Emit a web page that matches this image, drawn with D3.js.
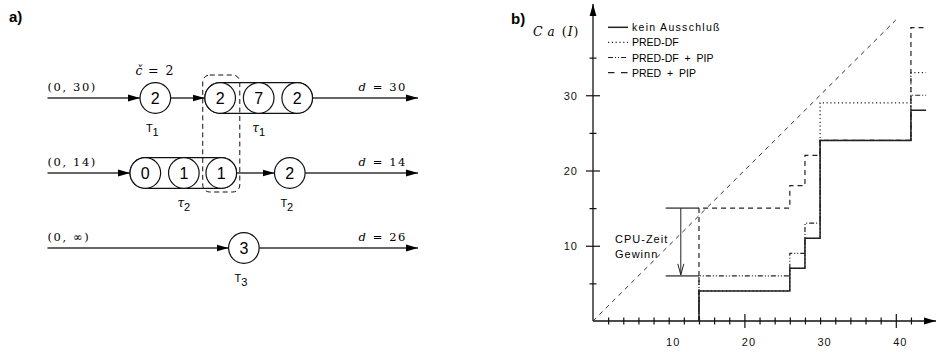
<!DOCTYPE html>
<html>
<head>
<meta charset="utf-8">
<script src="https://cdn.jsdelivr.net/npm/d3@7"></script>
<style>
body { margin: 0; background: #fff; }
svg { display: block; }
.sans { font-family: "Liberation Sans", Arial, sans-serif; }
.serif { font-family: "DejaVu Serif", "Liberation Serif", serif; }
</style>
</head>
<body>
<div id="chart"></div>
<script>
///////////////////////// Panel a data ////////////////////////////
var rowIds = ["T1", "T2", "T3"];
var rowRelease = ["(0, 30)", "(0, 14)", "(0, \u221e)"];
var rowDeadline = [30, 14, 26];
var taskCost = [2, 2, 3];            // single tasks T1, T2, T3
var taskSlot = [29.1, 65.4, 53.0];   // position along the row (0..100)
var tau1Cost = [2, 7, 2];
var tau1Slot = [46.6, 57.0, 67.4];
var tau2Cost = [0, 1, 1];
var tau2Slot = [26.4, 36.8, 46.9];
var cCheck = 2;

///////////////////////// Panel b data ////////////////////////////
var seriesNames = ["kein Ausschlu\u00df", "PRED-DF", "PRED-DF + PIP", "PRED + PIP"];
var stepX = [14, 26, 28, 30, 42, 44];
var keinAusschluss = [4, 7, 11, 24, 28];
var predDF = [4, 7, 11, 29, 33];
var predDFPip = [6, 9, 13, 24, 30];
var predPip = [15, 18, 22, 24, 39];
var xTicks = d3.range(2, 43, 2);
var xLabels = [10, 20, 30, 40];
var xMajor = [20, 40];
var yTicks = [5, 10, 15, 20, 25, 30, 35];
var yLabels = [10, 20, 30];
var gainTop = 15, gainBottom = 6, gainX = 11.6, gainX0 = 9.6;

var W = 936, H = 352;
var svg = d3.select("#chart").append("svg").attr("width", W).attr("height", H);

var ink = "#222";

// arrowhead markers
var defs = svg.append("defs");
defs.append("marker").attr("id", "tri")
    .attr("viewBox", "0 0 12 8").attr("refX", 12).attr("refY", 4)
    .attr("markerWidth", 12).attr("markerHeight", 8)
    .attr("markerUnits", "userSpaceOnUse").attr("orient", "auto")
  .append("path").attr("d", "M0,0.6 L12,4 L0,7.4 Z").attr("fill", "#000");
defs.append("marker").attr("id", "vee")
    .attr("viewBox", "0 0 8 12").attr("refX", 4).attr("refY", 12)
    .attr("markerWidth", 8).attr("markerHeight", 12)
    .attr("markerUnits", "userSpaceOnUse").attr("orient", 0)
  .append("path").attr("d", "M1,1 L4,12 L7,1").attr("fill", "none").attr("stroke", ink).attr("stroke-width", 1);

///////////////////////////////////////////////////////////////////
///////////////////////// Panel a /////////////////////////////////
///////////////////////////////////////////////////////////////////
var ga = svg.append("g");
var xa = d3.scaleLinear().domain([0, 100]).range([47.5, 418]);
var ya = d3.scalePoint().domain(rowIds).range([98, 248]);
var R = 15.3;

ga.append("text").attr("class", "sans").attr("x", 9).attr("y", 22)
  .style("font-size", "15px").style("font-weight", "bold").text("a)");

// row lines with arrows
var rows = rowIds.map(function(id, i) {
  return {id: id, rel: rowRelease[i], d: rowDeadline[i], cost: taskCost[i], slot: taskSlot[i]};
});

function hline(x1, x2, y, arrow) {
  ga.append("line").attr("x1", x1).attr("x2", x2).attr("y1", y).attr("y2", y)
    .attr("stroke", "#333").attr("stroke-width", 1.5)
    .attr("marker-end", arrow ? "url(#tri)" : null);
}

// row 1: (0,30) -> T1 -> tau1 -> d
var y1 = ya("T1"), y2 = ya("T2"), y3 = ya("T3");
hline(xa(0), xa(taskSlot[0]) - R, y1, true);
hline(xa(taskSlot[0]) + R, xa(tau1Slot[0]) - R, y1, true);
hline(xa(tau1Slot[2]) + R, xa(100), y1, true);
// row 2: (0,14) -> tau2 -> T2 -> d
hline(xa(0), xa(tau2Slot[0]) - R, y2, true);
hline(xa(tau2Slot[2]) + R, xa(taskSlot[1]) - R, y2, true);
hline(xa(taskSlot[1]) + R, xa(100), y2, true);
// row 3: (0,inf) -> T3 -> d
hline(xa(0), xa(taskSlot[2]) - R, y3, true);
hline(xa(taskSlot[2]) + R, xa(100), y3, true);

// capsules
function capsule(slots, y) {
  var x0 = xa(slots[0]) - R, x1 = xa(slots[slots.length - 1]) + R;
  ga.append("rect").attr("x", x0).attr("y", y - R).attr("width", x1 - x0).attr("height", 2 * R)
    .attr("rx", R).attr("ry", R).attr("fill", "#fff").attr("stroke", "#111").attr("stroke-width", 1.2);
}
capsule(tau1Slot, y1);
capsule(tau2Slot, y2);

function node(slot, y, val) {
  ga.append("circle").attr("cx", xa(slot)).attr("cy", y).attr("r", R)
    .attr("fill", "#fff").attr("stroke", "#111").attr("stroke-width", 1.2);
  ga.append("text").attr("class", "sans").attr("x", xa(slot)).attr("y", y + 5.8)
    .attr("text-anchor", "middle").style("font-size", "16px").text(val);
}
tau1Cost.forEach(function(c, i) { node(tau1Slot[i], y1, c); });
tau2Cost.forEach(function(c, i) { node(tau2Slot[i], y2, c); });
rows.forEach(function(r) { node(r.slot, ya(r.id), r.cost); });

// dashed box around the shared section
var bx0 = xa(41.9), bx1 = xa(51.9), by0 = y1 - 23, by1 = y2 + 19;
ga.append("rect").attr("x", bx0).attr("y", by0).attr("width", bx1 - bx0).attr("height", by1 - by0)
  .attr("rx", 7).attr("ry", 7).attr("fill", "none").attr("stroke", "#111")
  .attr("stroke-width", 1).attr("stroke-dasharray", "5,3.5");

// texts
rows.forEach(function(r) {
  var y = ya(r.id);
  ga.append("text").attr("class", "serif").attr("x", xa(0)).attr("y", y - 7)
    .style("font-size", "11.5px").style("letter-spacing", "1.6px").text(r.rel);
  var t = ga.append("text").attr("class", "serif").attr("x", xa(100) - 11).attr("y", y - 7)
    .attr("text-anchor", "end").style("font-size", "11.5px").style("letter-spacing", "1.6px")
    .attr("xml:space", "preserve");
  t.append("tspan").style("font-style", "italic").text("d");
  t.append("tspan").text(" = " + r.d);
  var lab = ga.append("text").attr("class", "sans").attr("x", xa(r.slot) - 3).attr("y", y + 34)
    .attr("text-anchor", "middle").style("font-size", "11px");
  lab.append("tspan").text("T");
  lab.append("tspan").attr("dy", 4).text(r.id.slice(1));
});

function tauLabel(slot, y, idx) {
  var t = ga.append("text").attr("x", xa(slot)).attr("y", y + 34).attr("text-anchor", "middle");
  t.append("tspan").attr("class", "serif").style("font-style", "italic").style("font-size", "12px").text("\u03c4");
  t.append("tspan").attr("class", "sans").attr("dy", 4).style("font-size", "11px").text(idx);
}
tauLabel(tau1Slot[1], y1, 1);
tauLabel(tau2Slot[1], y2, 2);

var cc = ga.append("text").attr("class", "serif").attr("x", xa(taskSlot[0])).attr("y", y1 - 23)
  .attr("text-anchor", "middle").style("font-size", "12.5px").attr("xml:space", "preserve");
cc.append("tspan").style("font-style", "italic").text("\u010d");
cc.append("tspan").style("letter-spacing", "1.5px").text(" = " + cCheck);

///////////////////////////////////////////////////////////////////
///////////////////////// Panel b /////////////////////////////////
///////////////////////////////////////////////////////////////////
var gb = svg.append("g");
var x = d3.scaleLinear().domain([0, 40]).range([593, 895.8]);
var y = d3.scaleLinear().domain([0, 40]).range([321, 20]);

gb.append("text").attr("class", "sans").attr("x", 511).attr("y", 24)
  .style("font-size", "15px").style("font-weight", "bold").text("b)");

// axes lines with arrows
gb.append("line").attr("x1", x(0)).attr("x2", x(0)).attr("y1", y(0)).attr("y2", 4)
  .attr("stroke", "#111").attr("stroke-width", 1.3).attr("marker-end", "url(#tri)");
gb.append("line").attr("x1", x(0)).attr("x2", 936).attr("y1", y(0)).attr("y2", y(0))
  .attr("stroke", "#111").attr("stroke-width", 1.3).attr("marker-end", "url(#tri)");

// ticks via d3 axes
var xAxis = d3.axisBottom(x).tickValues(xTicks).tickSize(0)
  .tickFormat(function(d) { return xLabels.indexOf(d) >= 0 ? d : ""; });
var gx = gb.append("g").attr("transform", "translate(0," + y(0) + ")").call(xAxis);
gx.select(".domain").remove();
gx.selectAll(".tick line")
  .attr("y1", function(d) { return xMajor.indexOf(d) >= 0 ? -7 : -3.5; })
  .attr("y2", function(d) { return xMajor.indexOf(d) >= 0 ? 7 : 3.5; })
  .attr("stroke", "#111").attr("stroke-width", 1.2);
gx.selectAll(".tick text").attr("y", 25).attr("dx", 4).attr("dy", 0)
  .attr("class", "sans").style("font-size", "11px").style("letter-spacing", "1px").attr("fill", "#111");

var yAxis = d3.axisLeft(y).tickValues(yTicks).tickSize(0)
  .tickFormat(function(d) { return yLabels.indexOf(d) >= 0 ? d : ""; });
var gy = gb.append("g").attr("transform", "translate(" + x(0) + ",0)").call(yAxis);
gy.select(".domain").remove();
gy.selectAll(".tick line")
  .attr("x1", function(d) { return yLabels.indexOf(d) >= 0 ? -7 : -3.5; })
  .attr("x2", function(d) { return yLabels.indexOf(d) >= 0 ? 7 : 3.5; })
  .attr("stroke", "#111").attr("stroke-width", 1.2);
gy.selectAll(".tick text").attr("x", -15).attr("dy", "0.35em")
  .attr("class", "sans").style("font-size", "11px").style("letter-spacing", "1px").attr("fill", "#111");

// y label C_a(I)
var yl = gb.append("text").attr("class", "serif").attr("x", 533).attr("y", 36)
  .style("font-size", "12.5px").style("font-style", "italic").attr("xml:space", "preserve");
yl.append("tspan").text("C");
yl.append("tspan").attr("dx", 5).style("font-size", "12px").text("a");
yl.append("tspan").attr("dx", 7).style("font-style", "normal").text("(");
yl.append("tspan").attr("dx", 1).text("I");
yl.append("tspan").attr("dx", 1).style("font-style", "normal").text(")");

// diagonal y = x
gb.append("line").attr("x1", x(0)).attr("y1", y(0)).attr("x2", x(40)).attr("y2", y(40))
  .attr("stroke", "#333").attr("stroke-width", 1).attr("stroke-dasharray", "4.5,4.5");

// CPU-Zeit Gewinn annotation
[gainTop, gainBottom].forEach(function(v) {
  gb.append("line").attr("x1", x(gainX0)).attr("x2", x(stepX[0])).attr("y1", y(v)).attr("y2", y(v))
    .attr("stroke", "#666").attr("stroke-width", 1.8);
});
gb.append("line").attr("x1", x(gainX)).attr("x2", x(gainX)).attr("y1", y(gainTop)).attr("y2", y(gainBottom) - 1)
  .attr("stroke", ink).attr("stroke-width", 1).attr("marker-end", "url(#vee)");
gb.append("text").attr("class", "sans").attr("x", 615).attr("y", 243)
  .style("font-size", "11px").style("letter-spacing", "1px").text("CPU-Zeit");
gb.append("text").attr("class", "sans").attr("x", 615).attr("y", 258)
  .style("font-size", "11px").style("letter-spacing", "1px").text("Gewinn");

// step series
var series = [
  {name: seriesNames[3], vals: predPip, dash: "5,4", w: 1.2},
  {name: seriesNames[2], vals: predDFPip, dash: "5,2,1,2,1,2", w: 1.2},
  {name: seriesNames[1], vals: predDF, dash: "1.2,2.6", w: 1.2},
  {name: seriesNames[0], vals: keinAusschluss, dash: null, w: 1.5}
];
var stepLine = d3.line().x(function(d) { return x(d[0]); }).y(function(d) { return y(d[1]); })
  .curve(d3.curveStepAfter);
series.forEach(function(s) {
  var pts = [[stepX[0], 0]];
  s.vals.forEach(function(v, i) { pts.push([stepX[i], v]); });
  pts.push([stepX[stepX.length - 1], s.vals[s.vals.length - 1]]);
  gb.append("path").datum(pts).attr("d", stepLine).attr("fill", "none")
    .attr("stroke", ink).attr("stroke-width", s.w).attr("stroke-dasharray", s.dash);
});

// legend
var legend = gb.append("g");
series.slice().reverse().forEach(function(s, i) {
  var ly = 27.3 + i * 15.1;
  legend.append("line").attr("x1", 608).attr("x2", 628).attr("y1", ly).attr("y2", ly)
    .attr("stroke", ink).attr("stroke-width", s.w)
    .attr("stroke-dasharray", i == 3 ? "6.5,6.5" : s.dash);
  legend.append("text").attr("class", "sans").attr("x", 632).attr("y", ly + 4)
    .style("font-size", "10.5px").style("letter-spacing", i == 0 ? "1.3px" : "0px")
    .attr("xml:space", "preserve")
    .text(s.name.replace(" + ", "  +  "));
});
</script>
</body>
</html>
